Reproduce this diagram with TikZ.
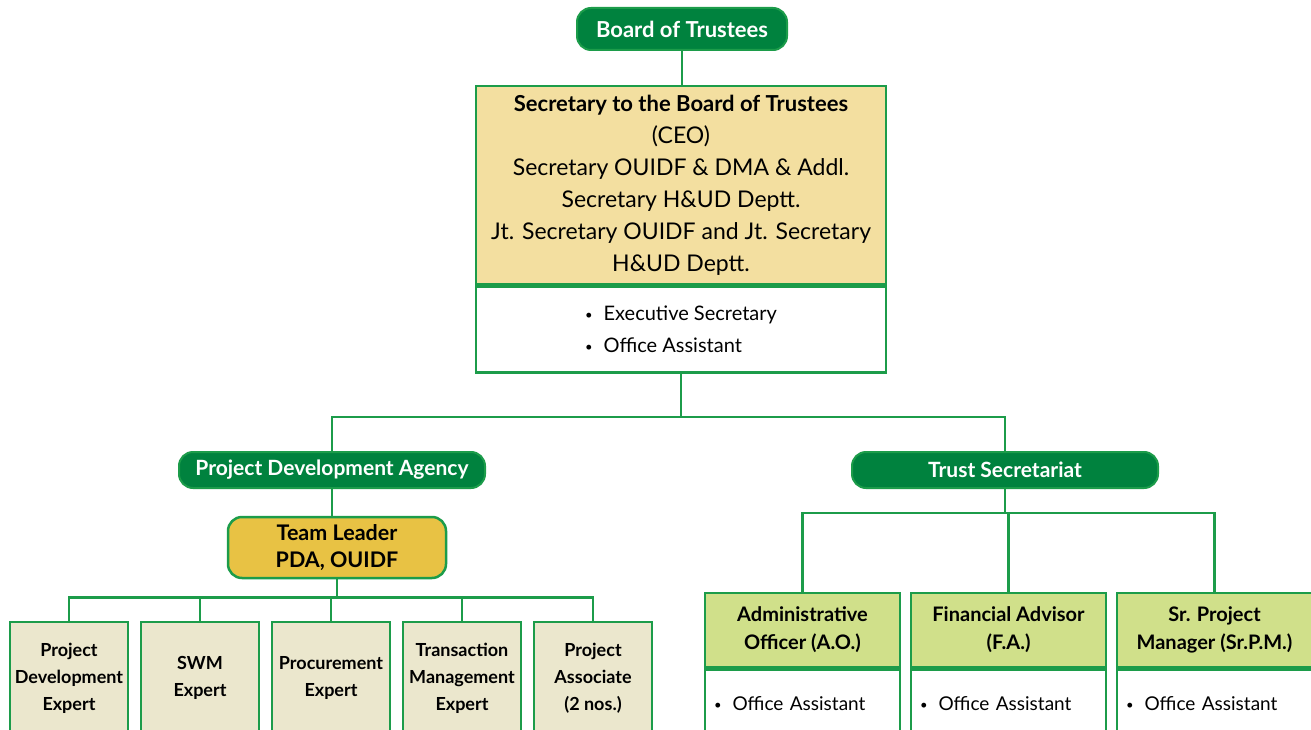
\documentclass[tikz,border=0pt]{standalone}
\usepackage{fontspec}
\setmainfont{Lato}
\usepackage{xcolor}
\usetikzlibrary{positioning}
\definecolor{boardgreen}{RGB}{0,130,62}
\definecolor{linegreen}{RGB}{28,156,74}
\definecolor{wheat}{RGB}{243,223,160}
\definecolor{leadgold}{RGB}{232,194,68}
\definecolor{expertbeige}{RGB}{235,231,205}
\definecolor{officelime}{RGB}{208,224,138}
\tikzset{%
  % Specifications for style of nodes:
  link/.style = {draw=linegreen, line width=2.5pt},
  pill/.style = {rectangle, rounded corners=14pt, draw=linegreen,
    line width=2pt, fill=boardgreen, text=white,
    minimum height=36pt,
    font=\bfseries\fontsize{21}{24}\selectfont},
  panel/.style = {rectangle, draw=linegreen, line width=2.5pt,
    inner sep=0pt, align=center},
  leader/.style = {rectangle, rounded corners=14pt, draw=linegreen,
    line width=2.5pt, fill=leadgold, align=center,
    minimum width=218pt, minimum height=61pt,
    font=\bfseries\fontsize{21.5}{27}\selectfont},
  expert/.style = {panel, fill=expertbeige,
    minimum width=118pt, minimum height=112pt,
    font=\bfseries\fontsize{18}{27}\selectfont},
  officer/.style = {panel, fill=officelime,
    minimum width=195pt, minimum height=74pt,
    font=\bfseries\fontsize{20}{28}\selectfont},
  staff/.style = {panel, fill=white, align=left,
    minimum width=195pt, minimum height=68pt,
    text width=177pt, inner xsep=9pt,
    font=\fontsize{19}{32}\selectfont},
}
\newcommand{\bul}{\raisebox{1pt}{\fontsize{13}{13}\selectfont\textbullet}\hspace{11pt}}

\begin{document}
\begin{tikzpicture}[x=1pt, y=-1pt, node distance=131pt]
  \useasboundingbox (0,0) rectangle (1311,730);
  \clip (0,0) rectangle (1311,730);
  % Specification of nodes (position, etc.)
  \node (board)[pill, minimum width=210pt, minimum height=42pt,
    font=\bfseries\fontsize{22}{26}\selectfont] at (682,29) {Board of Trustees};
  \node (secy)[panel, fill=wheat, minimum width=410pt, minimum height=198pt,
    font=\fontsize{23}{32}\selectfont] at (681,185) {%
    \textbf{\fontsize{22}{32}\selectfont Secretary to the Board of Trustees}\\
    (CEO)\\
    Secretary OUIDF \& DMA \& Addl.\\
    Secretary H\&UD Deptt.\\
    Jt. Secretary OUIDF and Jt. Secretary\\
    H\&UD Deptt.};
  \node (secystaff)[panel, fill=white, align=left, below=0pt of secy,
    minimum width=410pt, minimum height=86pt,
    font=\fontsize{20}{32}\selectfont] {%
    \bul Executive Secretary\\
    \bul Office Assistant};

  \node (pda)[pill, minimum width=306pt] at (332,470) {Project Development Agency};
  \node (trust)[pill, minimum width=306pt] at (1005,470) {Trust Secretariat};

  \node (lead)[leader] at (337,547.5) {Team Leader\\PDA, OUIDF};
  \node (pde)[expert] at (69,678) {Project\\Development\\Expert};
  \node (swm)[expert, right of=pde] {SWM\\Expert};
  \node (proc)[expert, right of=swm] {Procurement\\Expert};
  \node (tme)[expert, right of=proc] {Transaction\\Management\\Expert};
  \node (assoc)[expert, right of=tme] {Project\\Associate\\(2 nos.)};

  \node (ao)[officer] at (802.5,630) {Administrative\\Officer (A.O.)};
  \node (fa)[officer, right=8.5pt of ao] {Financial Advisor\\(F.A.)};
  \node (srpm)[officer, right=8.5pt of fa] {Sr. Project\\Manager (Sr.P.M.)};
  \node (aostaff)[staff, below=0pt of ao] {\bul Office Assistant};
  \node (fastaff)[staff, below=0pt of fa] {\bul Office Assistant};
  \node (srpmstaff)[staff, below=0pt of srpm] {\bul Office Assistant};

  % Connectors
  \draw[link] (board.south) -- (board.south |- secy.north);
  \draw[link] (secystaff.south) -- ++(0,43) coordinate (fork);
  \draw[link] (fork) -| (pda.north);
  \draw[link] (fork) -| (trust.north);
  \draw[link] (pda.south) -- (pda.south |- lead.north);
  \draw[link] (lead.south) -- ++(0,18) coordinate (xfork);
  \foreach \e in {pde,swm,proc,tme,assoc}
    \draw[link] (xfork) -| (\e.north);
  \draw[link] (trust.south) -- ++(0,24) coordinate (ofork);
  \foreach \o in {ao,fa,srpm}
    \draw[link] (ofork) -| (\o.north);
\end{tikzpicture}
\end{document}
